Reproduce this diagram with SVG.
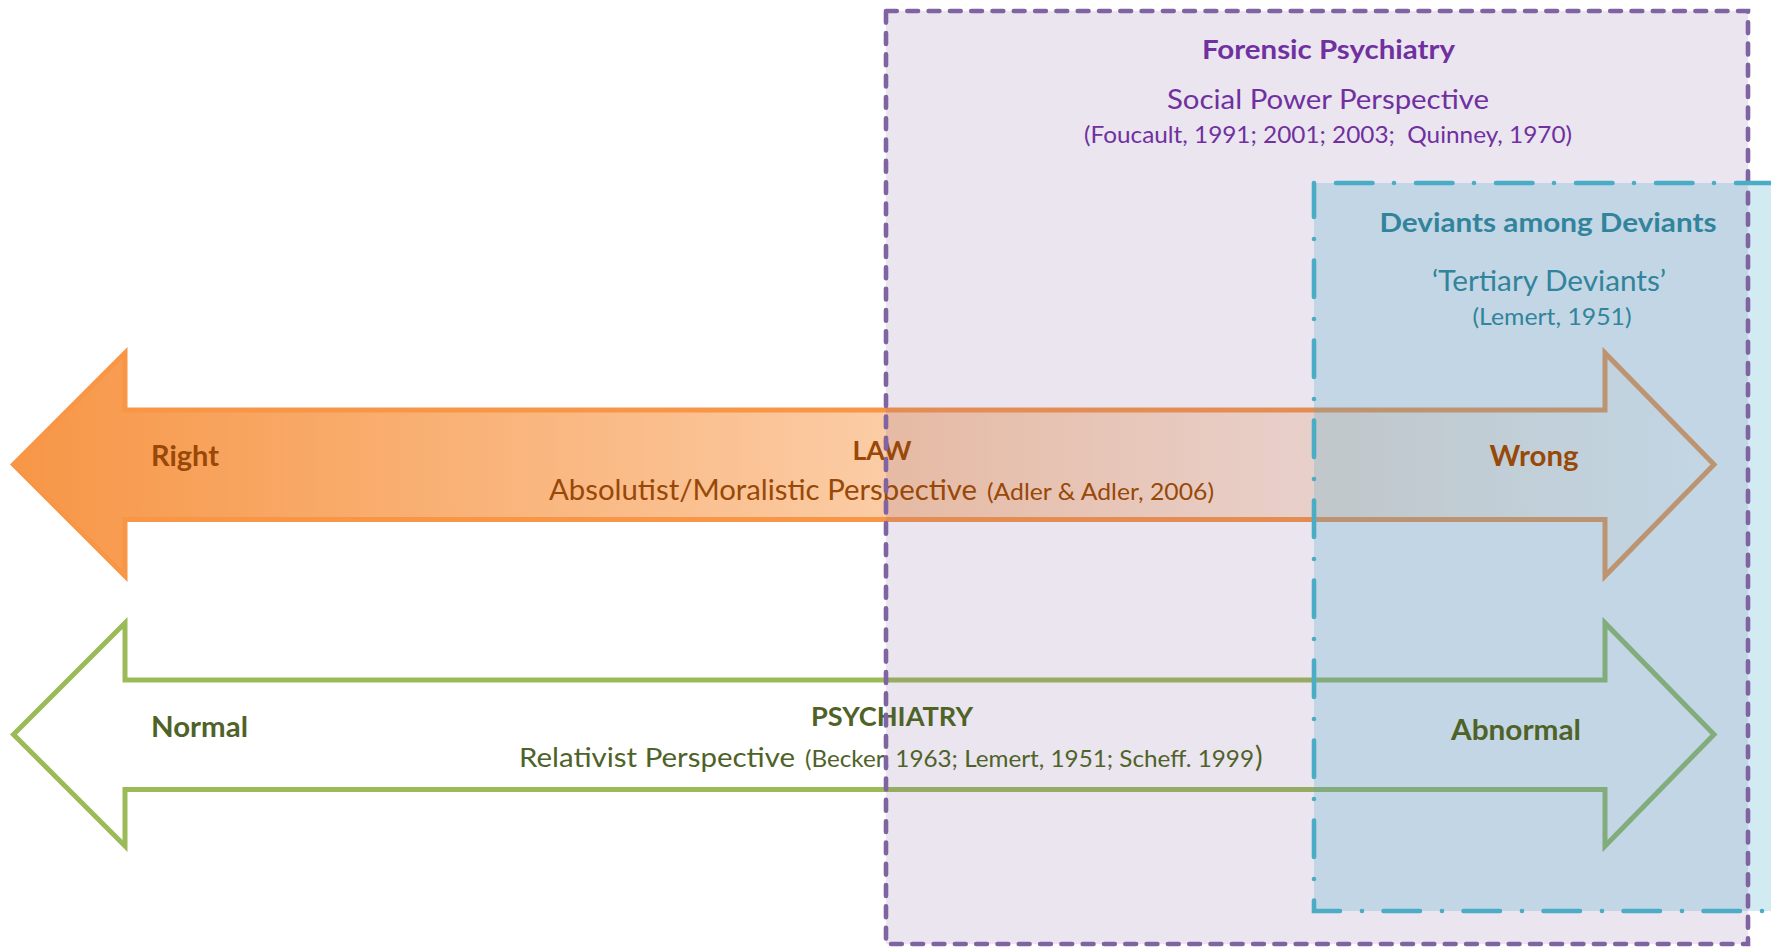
<svg xmlns="http://www.w3.org/2000/svg" width="1771" height="947" viewBox="0 0 1771 947">
<defs>
<linearGradient id="orangeGrad" gradientUnits="userSpaceOnUse" x1="11" y1="0" x2="1715" y2="0">
<stop offset="0" stop-color="#F79646"/>
<stop offset="1" stop-color="#FFFFFF"/>
</linearGradient>
<style>
.t{font-family:Lato,"Open Sans","Liberation Sans",sans-serif}
.b{font-weight:bold}
.law{fill:#984807}
.psy{fill:#4F6228}
.for{fill:#7030A0}
.dev{fill:#31849B}
.arrowO{fill:url(#orangeGrad);stroke:#F79646;stroke-width:5;stroke-linejoin:miter}
.arrowG{fill:#FFFFFF;stroke:#9BBB59;stroke-width:5;stroke-linejoin:miter}
.pfill{fill:#8064A2;fill-opacity:0.17}
.tfill{fill:#4BACC6;fill-opacity:0.25}
.pline{fill:none;stroke:#8064A2;stroke-width:4.6;stroke-linecap:round;stroke-dasharray:10.8 10.5}
.tline{fill:none;stroke:#4BACC6;stroke-width:4.6;stroke-linecap:round;stroke-dasharray:0 22 36.5 21.5}
</style>
</defs>
<rect x="0" y="0" width="1771" height="947" fill="#FFFFFF"/>

<g id="law-arrow">
<polygon class="arrowO" points="13.5,464.5 125,353 125,410 1605,410 1605,353 1714,464.5 1605,576 1605,519.5 125,519.5 125,576"/>
</g>
<g id="psychiatry-arrow">
<polygon class="arrowG" points="13.5,734.5 125,623 125,680 1605,680 1605,623 1714,734.5 1605,846 1605,789.5 125,789.5 125,846"/>
</g>

<g id="forensic-psychiatry-fill">
<rect class="pfill" x="886" y="11" width="862" height="933"/>
</g>
<g id="deviants-fill">
<rect class="tfill" x="1314" y="183" width="500" height="728"/>
</g>

<g id="law-labels">
<text class="t b law" x="151" y="466" font-size="28" textLength="68" lengthAdjust="spacingAndGlyphs">Right</text>
<text class="t b law" x="882" y="460" font-size="26.5" text-anchor="middle" textLength="59" lengthAdjust="spacingAndGlyphs">LAW</text>
<text class="t law" x="549" y="500" font-size="28" textLength="428" lengthAdjust="spacingAndGlyphs">Absolutist/Moralistic Perspective</text>
<text class="t law" x="987" y="500" font-size="23.5" textLength="227" lengthAdjust="spacingAndGlyphs">(Adler &amp; Adler, 2006)</text>
<text class="t b law" x="1489.5" y="466" font-size="28" textLength="89" lengthAdjust="spacingAndGlyphs">Wrong</text>
</g>

<g id="psychiatry-labels">
<text class="t b psy" x="151" y="737" font-size="28" textLength="97" lengthAdjust="spacingAndGlyphs">Normal</text>
<text class="t b psy" x="892" y="726" font-size="27" text-anchor="middle" textLength="162" lengthAdjust="spacingAndGlyphs">PSYCHIATRY</text>
<text class="t psy" x="519" y="766.5" font-size="27.5" textLength="276" lengthAdjust="spacingAndGlyphs">Relativist Perspective</text>
<text class="t psy" x="805" y="766.5" font-size="23.5" textLength="449" lengthAdjust="spacingAndGlyphs">(Becker, 1963; Lemert, 1951; Scheff. 1999</text>
<text class="t psy" x="1255" y="766.5" font-size="28.5">)</text>
<text class="t b psy" x="1451" y="740" font-size="28" textLength="130" lengthAdjust="spacingAndGlyphs">Abnormal</text>
</g>

<g id="forensic-psychiatry">
<rect class="pline" x="886" y="11" width="862" height="933"/>
<text class="t b for" x="1328.5" y="59.3" font-size="26.5" text-anchor="middle" textLength="253" lengthAdjust="spacingAndGlyphs">Forensic Psychiatry</text>
<text class="t for" x="1328" y="109.3" font-size="27" text-anchor="middle" textLength="322" lengthAdjust="spacingAndGlyphs">Social Power Perspective</text>
<text class="t for" x="1328" y="142.7" font-size="22.5" text-anchor="middle" style="white-space:pre" textLength="488" lengthAdjust="spacingAndGlyphs">(Foucault, 1991; 2001; 2003;  Quinney, 1970)</text>
</g>

<g id="deviants-among-deviants">
<rect class="tline" x="1314" y="183" width="500" height="728"/>
<text class="t b dev" x="1548" y="231.7" font-size="27" text-anchor="middle" textLength="337" lengthAdjust="spacingAndGlyphs">Deviants among Deviants</text>
<text class="t dev" x="1549" y="290.7" font-size="28.5" text-anchor="middle" textLength="234" lengthAdjust="spacingAndGlyphs">‘Tertiary Deviants’</text>
<text class="t dev" x="1552" y="325" font-size="22.5" text-anchor="middle" textLength="159" lengthAdjust="spacingAndGlyphs">(Lemert, 1951)</text>
</g>
</svg>
